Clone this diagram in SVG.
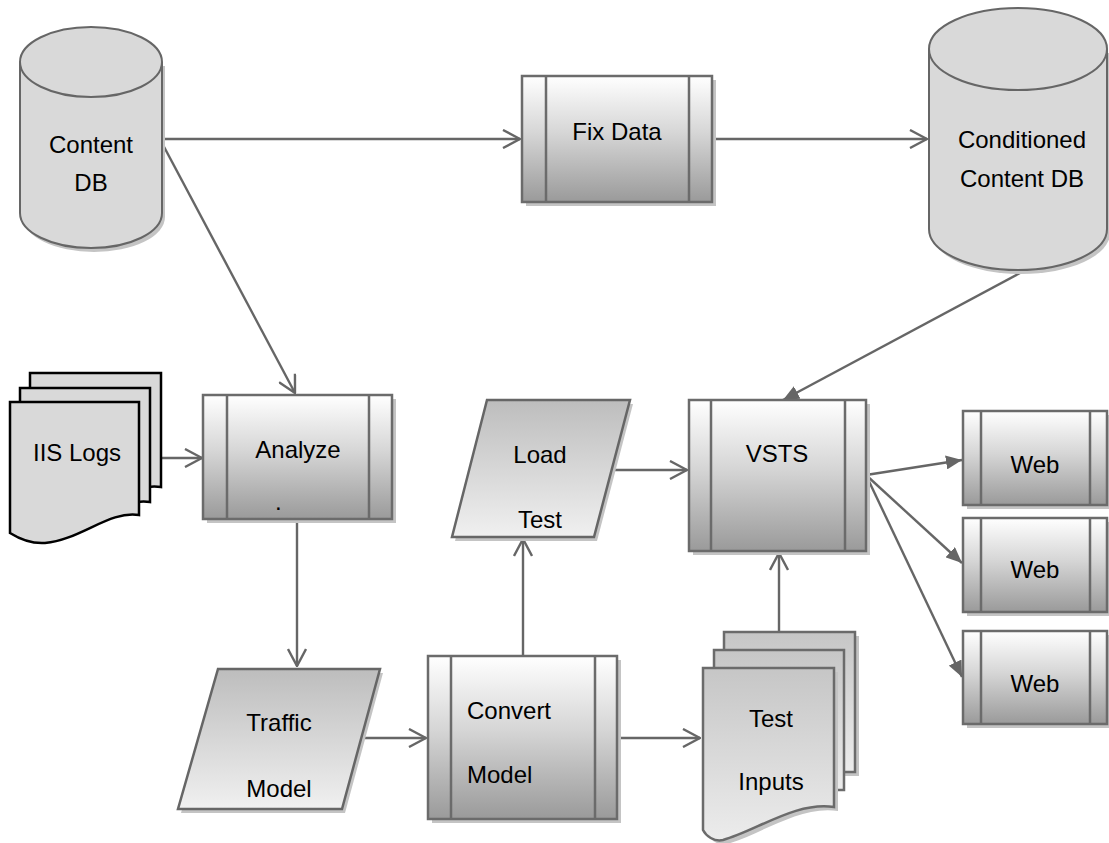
<svg xmlns="http://www.w3.org/2000/svg" width="1109" height="843" viewBox="0 0 1109 843">
<defs>
<linearGradient id="gBox" x1="0" y1="0" x2="0" y2="1">
<stop offset="0" stop-color="#ffffff"/>
<stop offset="0.45" stop-color="#d6d6d6"/>
<stop offset="1" stop-color="#9a9a9a"/>
</linearGradient>
<linearGradient id="gPar" x1="0" y1="0" x2="0" y2="1">
<stop offset="0" stop-color="#bdbdbd"/>
<stop offset="1" stop-color="#f0f0f0"/>
</linearGradient>
<linearGradient id="gDoc" x1="0" y1="0" x2="0" y2="1">
<stop offset="0" stop-color="#c6c6c6"/>
<stop offset="1" stop-color="#ececec"/>
</linearGradient>
<marker id="open" viewBox="0 0 20 20" refX="19" refY="10" markerWidth="20" markerHeight="20" markerUnits="userSpaceOnUse" orient="auto">
<path d="M2,1 L19,10 L2,19" fill="none" stroke="#666" stroke-width="2.4"/>
</marker>
<marker id="fill" viewBox="0 0 16 14" refX="16" refY="7" markerWidth="16" markerHeight="14" markerUnits="userSpaceOnUse" orient="auto">
<path d="M0,0 L16,7 L0,14 Z" fill="#666"/>
</marker>
</defs>
<style>
text{font-family:"Liberation Sans",Arial,sans-serif;font-size:24px;fill:#000}
.c{text-anchor:middle}
.sh{fill:#c4c4c4;stroke:none}
.box{fill:url(#gBox);stroke:#6b6b6b;stroke-width:2.5}
.in{stroke:#6b6b6b;stroke-width:2.5}
.cyl{fill:#d9d9d9;stroke:#666;stroke-width:2}
.par{fill:url(#gPar);stroke:#666;stroke-width:2.5}
.doc{fill:#d9d9d9;stroke:#000;stroke-width:2.5}
.tdoc{fill:url(#gDoc);stroke:#6b6b6b;stroke-width:2.5}
.cn{fill:none;stroke:#666;stroke-width:2.4}
</style>

<g id="connectors">
<path class="cn" d="M162,139 H520" marker-end="url(#open)"/>
<path class="cn" d="M712,139 H927" marker-end="url(#open)"/>
<path class="cn" d="M162,143 L295,393" marker-end="url(#open)"/>
<path class="cn" d="M161,458 H202" marker-end="url(#open)"/>
<path class="cn" d="M297,520 V666" marker-end="url(#open)"/>
<path class="cn" d="M362,738 H426" marker-end="url(#open)"/>
<path class="cn" d="M523,656 V539" marker-end="url(#open)"/>
<path class="cn" d="M617,738 H700" marker-end="url(#open)"/>
<path class="cn" d="M779,632 V553" marker-end="url(#open)"/>
<path class="cn" d="M612,470 H687" marker-end="url(#open)"/>
<path class="cn" d="M1020,273 L783,400" marker-end="url(#fill)"/>
<path class="cn" d="M866,475 L962,460" marker-end="url(#fill)"/>
<path class="cn" d="M866,475 L962,563" marker-end="url(#fill)"/>
<path class="cn" d="M866,475 L962,677" marker-end="url(#fill)"/>
</g>

<g id="content-db">
<path class="sh" d="M23,66 V217 A71,35 0 0 0 165,217 V66 Z"/>
<path class="cyl" d="M20,62 V213 A71,35 0 0 0 162,213 V62"/>
<ellipse class="cyl" cx="91" cy="62" rx="71" ry="35"/>
<text class="c" x="91" y="153">Content</text>
<text class="c" x="91" y="191">DB</text>
</g>

<g id="fix-data">
<rect class="sh" x="526" y="80" width="190" height="126"/>
<rect class="box" x="522" y="76" width="190" height="126"/>
<line class="in" x1="546" y1="76" x2="546" y2="202"/>
<line class="in" x1="689" y1="76" x2="689" y2="202"/>
<text class="c" x="617" y="140">Fix Data</text>
</g>

<g id="conditioned-db">
<path class="sh" d="M932,53 V233 A89,41 0 0 0 1110,233 V53 Z"/>
<path class="cyl" d="M929,49 V229 A89,41 0 0 0 1107,229 V49"/>
<ellipse class="cyl" cx="1018" cy="49" rx="89" ry="41"/>
<text class="c" x="1022" y="148">Conditioned</text>
<text class="c" x="1022" y="187">Content DB</text>
</g>

<g id="iis-logs">
<path class="doc" d="M30,373 H161 V487 C140,483 110,500 80,505 L30,500 Z"/>
<path class="doc" d="M20,388 H150 V502 C130,498 100,515 70,520 L20,515 Z"/>
<path class="doc" d="M10,402 H139 V515 C110,510 80,540 45,543 C30,544 18,538 10,533 Z"/>
<text class="c" x="77" y="461">IIS Logs</text>
</g>

<g id="analyze">
<rect class="sh" x="207" y="399" width="189" height="124"/>
<rect class="box" x="203" y="395" width="189" height="124"/>
<line class="in" x1="227" y1="395" x2="227" y2="519"/>
<line class="in" x1="369" y1="395" x2="369" y2="519"/>
<text class="c" x="298" y="458">Analyze</text>
<text x="275" y="510">.</text>
</g>

<g id="load-test">
<path class="sh" d="M490,404 H633 L597,541 H455 Z"/>
<path class="par" d="M487,400 H630 L594,537 H452 Z"/>
<text class="c" x="540" y="463">Load</text>
<text class="c" x="540" y="528">Test</text>
</g>

<g id="vsts">
<rect class="sh" x="693" y="404" width="177" height="151"/>
<rect class="box" x="689" y="400" width="177" height="151"/>
<line class="in" x1="711" y1="400" x2="711" y2="551"/>
<line class="in" x1="845" y1="400" x2="845" y2="551"/>
<text class="c" x="777" y="462">VSTS</text>
</g>

<g id="web-1">
<rect class="sh" x="967" y="415" width="144" height="94"/>
<rect class="box" x="963" y="411" width="144" height="94"/>
<line class="in" x1="981" y1="411" x2="981" y2="505"/>
<line class="in" x1="1090" y1="411" x2="1090" y2="505"/>
<text class="c" x="1035" y="473">Web</text>
</g>

<g id="web-2">
<rect class="sh" x="967" y="522" width="144" height="94"/>
<rect class="box" x="963" y="518" width="144" height="94"/>
<line class="in" x1="981" y1="518" x2="981" y2="612"/>
<line class="in" x1="1090" y1="518" x2="1090" y2="612"/>
<text class="c" x="1035" y="578">Web</text>
</g>

<g id="web-3">
<rect class="sh" x="967" y="635" width="144" height="93"/>
<rect class="box" x="963" y="631" width="144" height="93"/>
<line class="in" x1="981" y1="631" x2="981" y2="724"/>
<line class="in" x1="1090" y1="631" x2="1090" y2="724"/>
<text class="c" x="1035" y="692">Web</text>
</g>

<g id="traffic-model">
<path class="sh" d="M221,673 H383 L345,813 H181 Z"/>
<path class="par" d="M218,669 H380 L342,809 H178 Z"/>
<text class="c" x="279" y="731">Traffic</text>
<text class="c" x="279" y="797">Model</text>
</g>

<g id="convert-model">
<rect class="sh" x="432" y="660" width="189" height="163"/>
<rect class="box" x="428" y="656" width="189" height="163"/>
<line class="in" x1="451" y1="656" x2="451" y2="819"/>
<line class="in" x1="595" y1="656" x2="595" y2="819"/>
<text x="467" y="719">Convert</text>
<text x="467" y="783">Model</text>
</g>

<g id="test-inputs">
<path class="sh" d="M728,636 H859 V776 H728 Z"/>
<path class="tdoc" d="M724,632 H855 V772 H724 Z"/>
<path class="tdoc" d="M714,650 H844 V790 H714 Z"/>
<path class="sh" d="M707,672 H838 V811 C800,805 760,835 727,844 C718,846 710,840 707,834 Z"/>
<path class="tdoc" d="M703,668 H834 V807 C796,801 756,831 723,840 C714,842 706,836 703,830 Z"/>
<text class="c" x="771" y="727">Test</text>
<text class="c" x="771" y="790">Inputs</text>
</g>
</svg>
